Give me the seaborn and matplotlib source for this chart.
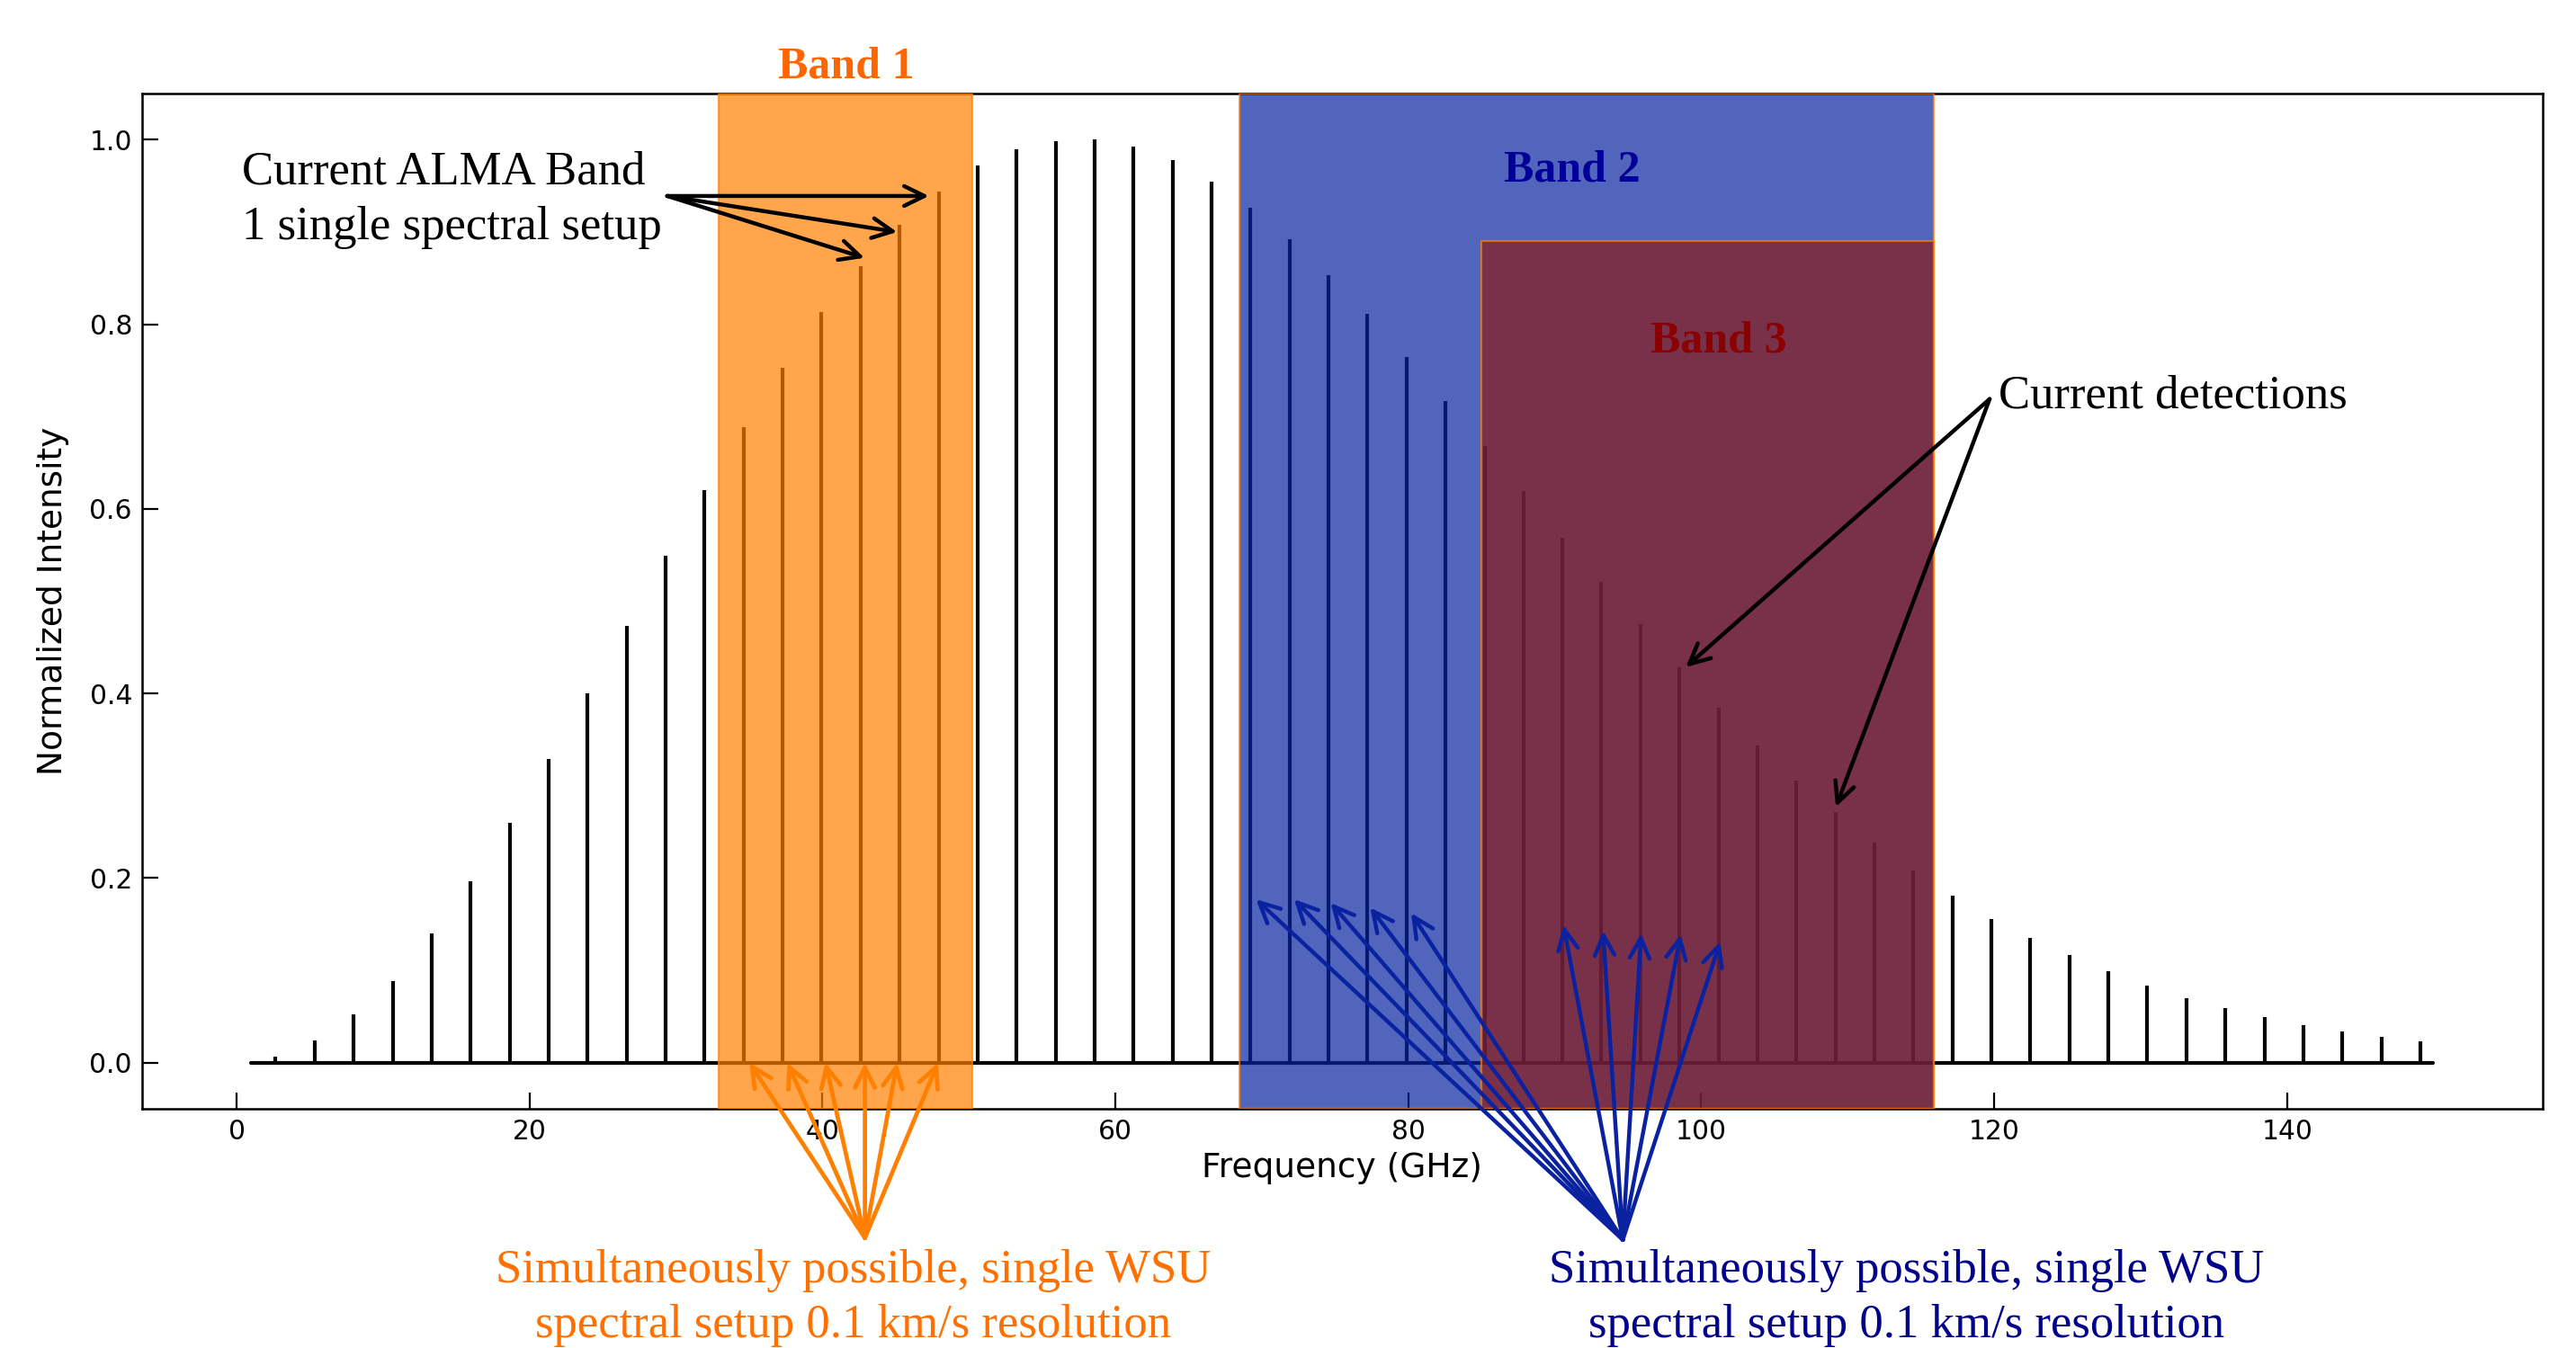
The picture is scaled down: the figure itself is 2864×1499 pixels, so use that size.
import matplotlib
matplotlib.use("Agg")
import matplotlib.pyplot as plt
import seaborn as sns

# rotational ladder (GHz, normalized peak)
freq_ghz = [2.66, 5.33, 7.99, 10.65, 13.31, 15.98, 18.64, 21.30, 23.96, 26.63,
            29.29, 31.95, 34.62, 37.28, 39.94, 42.60, 45.27, 47.93, 50.59, 53.25,
            55.92, 58.58, 61.24, 63.90, 66.57, 69.23, 71.89, 74.56, 77.22, 79.88,
            82.54, 85.21, 87.87, 90.53, 93.19, 95.86, 98.52, 101.18, 103.84, 106.51,
            109.17, 111.83, 114.50, 117.16, 119.82, 122.48, 125.15, 127.81, 130.47, 133.13,
            135.80, 138.46, 141.12, 143.78, 146.45, 149.11]
intensity = [0.006, 0.024, 0.052, 0.088, 0.140, 0.196, 0.260, 0.329, 0.400, 0.473,
             0.549, 0.620, 0.689, 0.753, 0.813, 0.863, 0.908, 0.944, 0.972, 0.990,
             0.998, 1.000, 0.993, 0.978, 0.955, 0.926, 0.892, 0.853, 0.811, 0.765,
             0.717, 0.668, 0.619, 0.569, 0.521, 0.475, 0.428, 0.385, 0.344, 0.306,
             0.271, 0.238, 0.208, 0.181, 0.156, 0.135, 0.117, 0.099, 0.083, 0.070,
             0.059, 0.049, 0.041, 0.034, 0.028, 0.023]
baseline_ghz = [1.0, 150.0]
baseline_val = [0.0, 0.0]

band_names = ["Band 1", "Band 2", "Band 3"]
band_lo = [32.9, 68.5, 85.0]
band_hi = [50.25, 115.9, 115.9]
band_top = [None, None, 0.89]
band_face = ["#ff7f00", "#0924a2", "#8b1c1a"]
band_text = ["#ff6600", "#000099", "#8b0000"]
band_label_xy = [(41.6, 1.079), (91.2, 0.967), (101.2, 0.782)]

alma_src = (29.4, 0.939)
alma_tip_x = [47.27, 45.1, 42.87]
alma_tip_y = [0.939, 0.900, 0.872]

det_src = (119.7, 0.719)
det_tip_x = [98.95, 109.2]
det_tip_y = [0.4285, 0.277]

wsu1_src = (42.9, -0.190)
wsu1_tip_x = [35.0, 37.6, 40.2, 42.9, 45.1, 47.9]
wsu1_tip_y = [0.0, 0.0, 0.0, 0.0, 0.0, 0.0]

wsu2_src = (94.65, -0.192)
wsu2_tip_x = [69.6, 72.2, 74.7, 77.4, 80.2, 90.6, 93.3, 95.9, 98.6, 101.3]
wsu2_tip_y = [0.177, 0.177, 0.173, 0.168, 0.162, 0.149, 0.143, 0.140, 0.139, 0.131]

wsu_text = "Simultaneously possible, single WSU\nspectral setup 0.1 km/s resolution"

sns.set_theme(style="ticks")
plt.rcParams["font.family"] = ["DejaVu Sans"]
plt.rcParams["text.color"] = "black"
plt.rcParams["axes.labelcolor"] = "black"
serif = ["Liberation Serif", "DejaVu Serif"]

fig = plt.figure(figsize=(14.32, 7.495), dpi=200)
ax = fig.add_axes([0.0552, 0.1775, 0.9318, 0.7531])

YLIM = (-0.05, 1.05)
ax.vlines(freq_ghz, 0, intensity, color="black", lw=1.5, zorder=2)
sns.lineplot(x=baseline_ghz, y=baseline_val, color="black", lw=1.5, ax=ax, zorder=2)

for name, lo, hi, top, fc, tc, (lx, ly) in zip(band_names, band_lo, band_hi, band_top,
                                                band_face, band_text, band_label_xy):
    ymax = 1.0 if top is None else (top - YLIM[0]) / (YLIM[1] - YLIM[0])
    ax.axvspan(lo, hi, ymin=0, ymax=ymax, facecolor=fc, alpha=0.7,
               edgecolor="#ff7f00", lw=0.8, zorder=3)
    ax.text(lx, ly, name, color=tc, fontsize=18, fontweight="bold", family=serif,
            ha="center", va="center", zorder=5)


def fan(src, xs, ys, color, lw=1.6):
    for x, y in zip(xs, ys):
        ax.annotate("", xy=(x, y), xytext=src, zorder=6, annotation_clip=False,
                    arrowprops=dict(arrowstyle="->,head_length=0.45,head_width=0.22",
                                    color=color, lw=lw, shrinkA=0, shrinkB=0,
                                    mutation_scale=18))


ax.text(0.34, 0.935, "Current ALMA Band\n1 single spectral setup", fontsize=19,
        family=serif, ha="left", va="center", linespacing=1.35, zorder=6)
fan(alma_src, alma_tip_x, alma_tip_y, "black")

ax.text(120.3, 0.722, "Current detections", fontsize=19, family=serif,
        ha="left", va="center", zorder=6)
fan(det_src, det_tip_x, det_tip_y, "black")

fan(wsu1_src, wsu1_tip_x, wsu1_tip_y, "#ff7f00", lw=1.7)
fan(wsu2_src, wsu2_tip_x, wsu2_tip_y, "#0a22a0")
ax.text(42.1, -0.255, wsu_text, fontsize=19, family=serif, color="#ff7000",
        ha="center", va="center", multialignment="center", linespacing=1.35,
        clip_on=False)
ax.text(114.0, -0.255, wsu_text, fontsize=19, family=serif, color="#00008b",
        ha="center", va="center", multialignment="center", linespacing=1.35,
        clip_on=False)

ax.set_xlim(-6.45, 157.45)
ax.set_ylim(*YLIM)
ax.set_xticks([0, 20, 40, 60, 80, 100, 120, 140])
ax.set_yticks([0.0, 0.2, 0.4, 0.6, 0.8, 1.0])
ax.tick_params(direction="in", length=6.5, width=0.8, labelsize=10.7, pad=4,
               colors="black", top=False, right=False)
for sp in ax.spines.values():
    sp.set_visible(True)
    sp.set_color("black")
    sp.set_linewidth(0.9)
ax.set_xlabel("Frequency (GHz)", fontsize=13.5, labelpad=3)
ax.set_ylabel("Normalized Intensity", fontsize=13.5, labelpad=8)
ax.grid(False)

fig.savefig("out.png", dpi=200)
